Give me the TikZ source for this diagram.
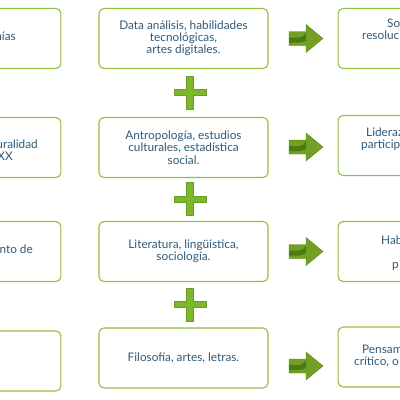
\documentclass[tikz,border=0pt]{standalone}
\usepackage{fontspec}
\setmainfont{Lato}
\usepackage{tikz}
\usetikzlibrary{positioning}
\definecolor{boxgreen}{HTML}{92C13E}
\definecolor{textblue}{HTML}{2F5A78}
\definecolor{plusgreen}{HTML}{7DB82C}
\definecolor{plusedge}{HTML}{6A9E22}
\definecolor{arrowgreen}{HTML}{72A024}
\definecolor{arrowdark}{HTML}{4E7A14}
\definecolor{arrowedge}{HTML}{5A8718}
\newcommand{\greenarrow}[2]{\begin{scope}[shift={(#1,#2)}]\filldraw[fill=arrowgreen, draw=arrowedge, line width=0.4pt] (-17,-7) -- (0,-7) -- (0,-14) -- (17,0) -- (0,14) -- (0,7) -- (-17,7) -- cycle;\fill[arrowdark] (-17,-1) -- (-8,-1) .. controls (-3,-1) and (-1,-4) .. (0,-6) -- (0,2) .. controls (-2,3) and (-4,4) .. (-7,4) -- (-17,4) -- cycle;\end{scope}}
\newcommand{\plusmark}[2]{\filldraw[fill=plusgreen, draw=plusedge, line width=0.5pt, shift={(#1,#2)}] (-3.5,-16.5) -- (3.5,-16.5) -- (3.5,-3) -- (16,-3) -- (16,3) -- (3.5,3) -- (3.5,16.5) -- (-3.5,16.5) -- (-3.5,3) -- (-16,3) -- (-16,-3) -- (-3.5,-3) -- cycle;}
\tikzset{itembox/.style={draw=boxgreen, line width=1.1pt, rounded corners=5pt, fill=white, minimum width=169pt, minimum height=60pt, text=textblue, align=center, font=\fontsize{11.8}{12.2}\selectfont},
  cuttext/.style={inner sep=0pt, text=textblue, font=\fontsize{11.8}{12.2}\selectfont}}

\begin{document}
\begin{tikzpicture}[x=1pt, y=-1pt]
\clip (0,0) rectangle (400,400);
% middle column
\node[itembox] (m1) at (183.5,38.5) {Data análisis, habilidades\\tecnológicas,\\artes digitales.};
\node[itembox] (m2) at (183.5,147.5) {Antropología, estudios\\culturales, estadística\\social.};
\node[itembox] (m3) at (183.5,251.5) {Literatura, lingüística,\\sociología.};
\node[itembox] (m4) at (183.5,358) {Filosofía, artes, letras.};
% left column
\node[itembox, left=37pt of m1] (l1) {};
\node[itembox, left=37pt of m2] (l2) {};
\node[itembox, left=37pt of m3] (l3) {};
\node[itembox, left=37pt of m4, yshift=-3pt] (l4) {};
% right column
\node[itembox, right=69pt of m1] (r1) {};
\node[itembox, right=69pt of m2, yshift=2pt] (r2) {};
\node[itembox, right=69pt of m3] (r3) {};
\node[itembox, right=69pt of m4, yshift=1pt] (r4) {};
% text cut by the frame
\node[cuttext, anchor=base east] (l1a) at (16,40) {nías};
\node[cuttext, anchor=base east] (l2a) at (38,148) {uralidad};
\node[cuttext, anchor=base east] (l2b) at (13,160) {XX};
\node[cuttext, anchor=base east] (l3a) at (33,253) {nto de};
\node[cuttext, anchor=base west] (r1a) at (387,27) {So};
\node[cuttext, anchor=base west] (r1b) at (362,39) {resoluc};
\node[cuttext, anchor=base west] (r2a) at (366,136) {Lideraz};
\node[cuttext, anchor=base west] (r2b) at (361,148) {particip};
\node[cuttext, anchor=base west] (r3a) at (381,244) {Hab};
\node[cuttext, anchor=base west] (r3b) at (392,268) {p};
\node[cuttext, anchor=base west] (r4a) at (362,353) {Pensam};
\node[cuttext, anchor=base west] (r4b) at (354,365) {crítico, o};
% plus signs
\plusmark{190}{92.5}
\plusmark{190}{199}
\plusmark{190}{304.5}
% arrows
\greenarrow{306}{38.5}
\greenarrow{306}{147}
\greenarrow{306}{251.5}
\greenarrow{306}{366}
\end{tikzpicture}
\end{document}
